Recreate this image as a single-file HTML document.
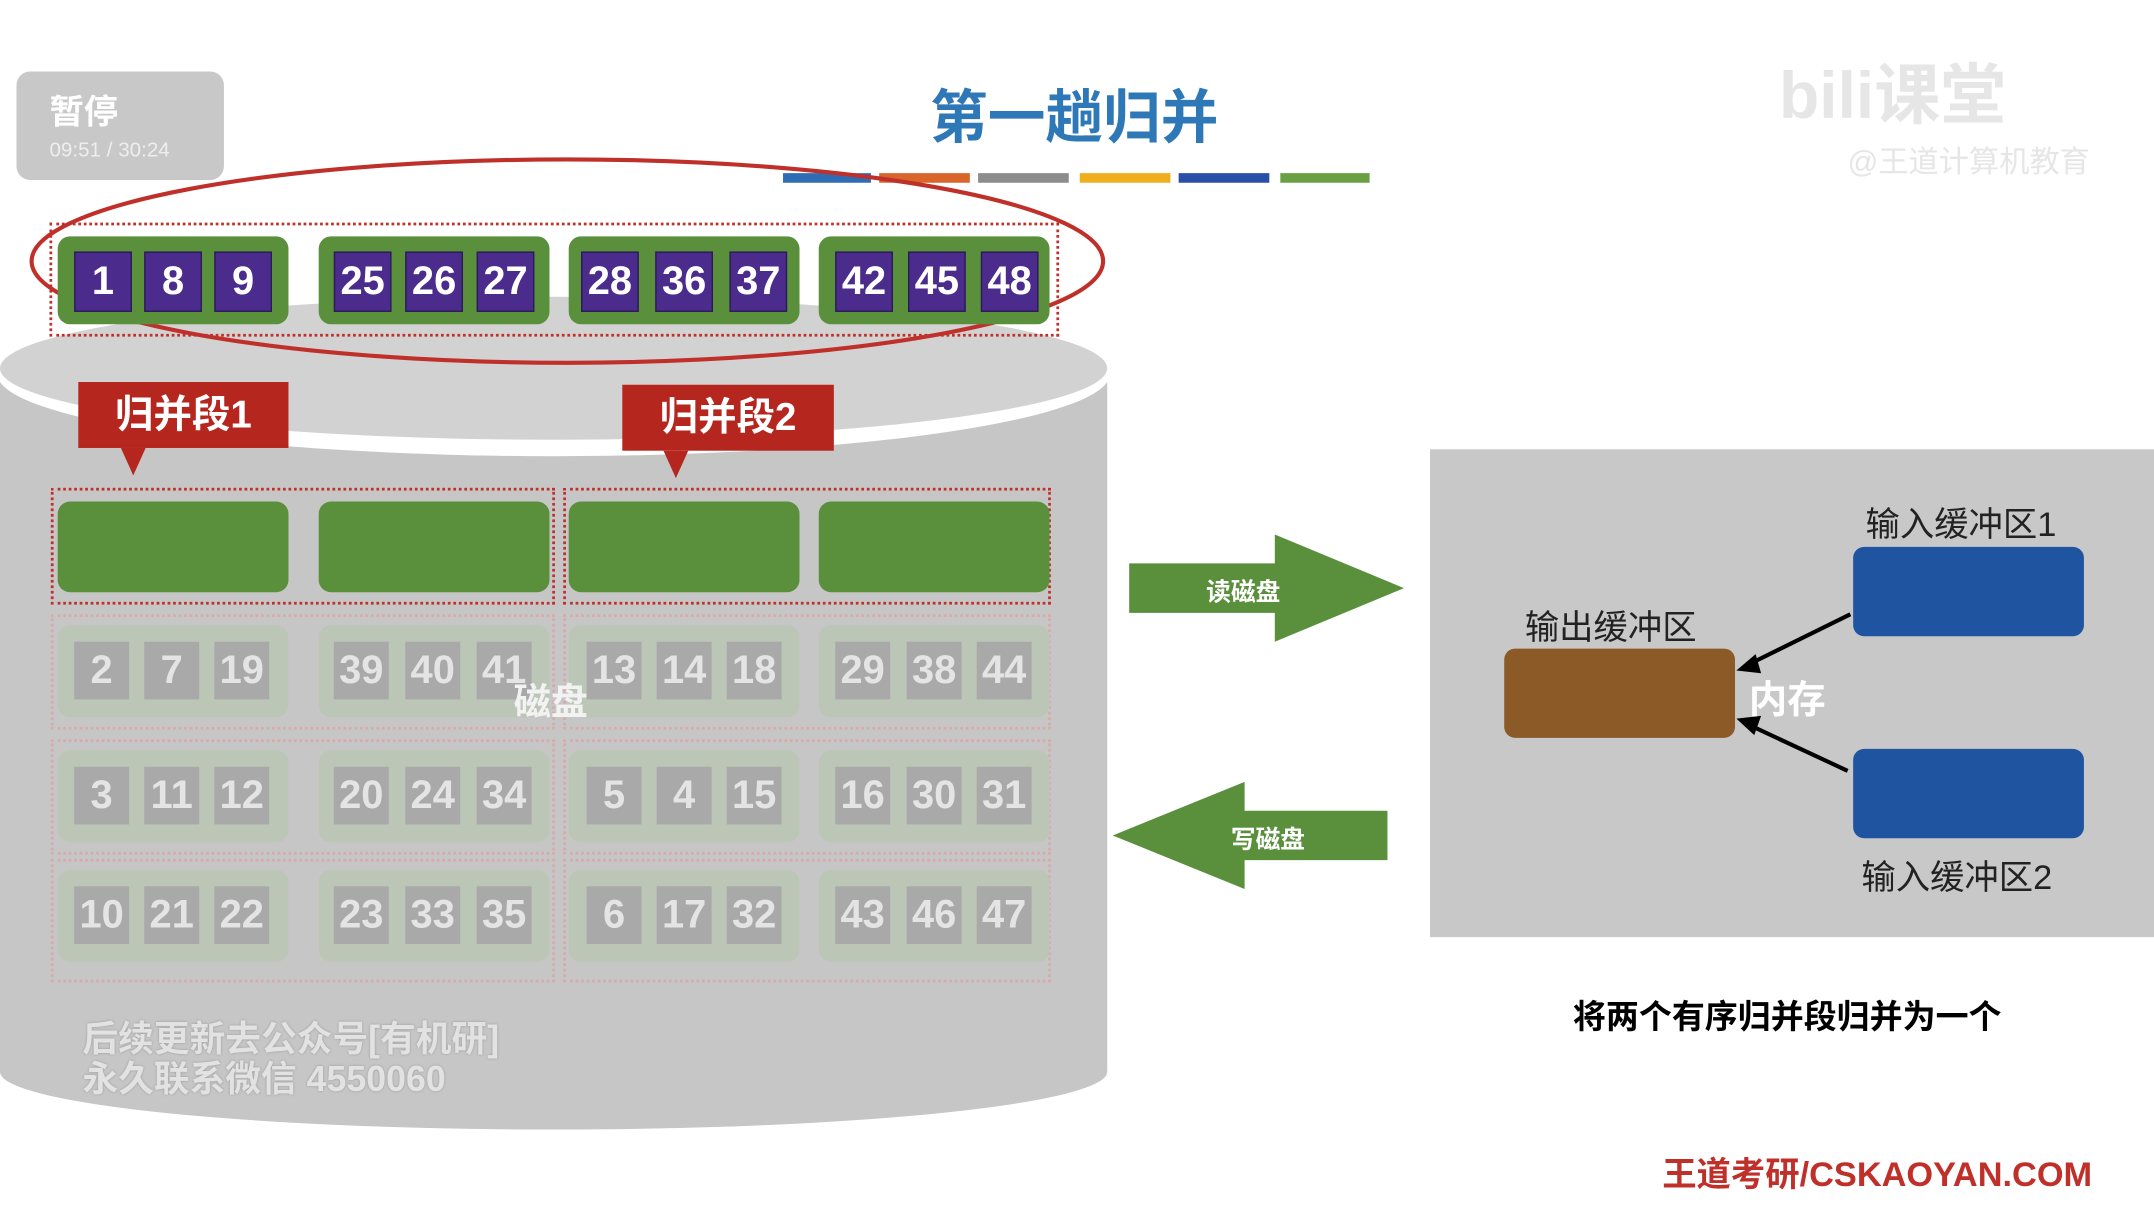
<!DOCTYPE html>
<html><head><meta charset="utf-8">
<style>
html,body{margin:0;padding:0;background:#fff;overflow:hidden;width:2154px;height:1212px}
#w{position:absolute;left:0;top:0;width:1568px;height:882px;transform:scale(1.37372,1.3741);transform-origin:0 0;font-family:"Liberation Sans","Noto Sans CJK SC",sans-serif;background:#fff}
.a{position:absolute}
.g{position:absolute;background:#5a8f3c;border-radius:9px}
.sq{position:absolute;background:#4b2b8c;color:#fff;font-weight:bold;font-size:29px;text-align:center;line-height:42px;width:40px;height:42px;top:11px;border:1px solid #2a1a55}
.fg{position:absolute;background:#bcc6b6;border-radius:9px}
.fs{position:absolute;background:#a9a9a9;color:#e4e4e4;font-weight:bold;font-size:29px;text-align:center;line-height:42px;width:40px;height:42px;top:12px}
.dot{position:absolute;border:2px dotted #c0302a}
.fdot{position:absolute;border:2px dotted #d8aaaa}
.lbl{position:absolute;background:#b5261e;color:#fff;font-weight:bold;font-size:28px;text-align:center;line-height:48px}
</style></head><body><div id="w">
<svg class="a" style="left:0;top:0" width="1568" height="882">
 <rect x="0" y="270" width="806" height="510" fill="#c6c6c6"/>
 <ellipse cx="403" cy="780" rx="403" ry="42" fill="#c6c6c6"/>
 <ellipse cx="403" cy="272" rx="405" ry="60" fill="#fff"/>
 <ellipse cx="403" cy="268" rx="403" ry="52" fill="#d2d2d2"/>
 <rect x="570" y="126" width="64" height="7" fill="#2e6db4"/>
 <rect x="640" y="126" width="66" height="7" fill="#d9652b"/>
 <rect x="712" y="126" width="66" height="7" fill="#8c8c8c"/>
 <rect x="786" y="126" width="66" height="7" fill="#f0ad1c"/>
 <rect x="858" y="126" width="66" height="7" fill="#2a4fa8"/>
 <rect x="932" y="126" width="65" height="7" fill="#6aa043"/>
 <ellipse cx="413" cy="190" rx="390" ry="74" fill="none" stroke="#c0302a" stroke-width="3"/>
 <polygon points="822,410 928,410 928,389 1022,428 928,467 928,446 822,446" fill="#5a8f3c"/>
 <polygon points="1010,590 906,590 906,569 810,608 906,647 906,626 1010,626" fill="#5a8f3c"/>
 <rect x="1041" y="327" width="527" height="355" fill="#c8c8c8"/>
 <rect x="1095" y="472" width="168" height="65" rx="8" fill="#8b5a26"/>
 <rect x="1349" y="398" width="168" height="65" rx="8" fill="#1f55a0"/>
 <rect x="1349" y="545" width="168" height="65" rx="8" fill="#1f55a0"/>
 <line x1="1347" y1="447" x2="1272" y2="484" stroke="#000" stroke-width="3"/>
 <polygon points="1264,488 1278,476 1282,490" fill="#000"/>
 <line x1="1345" y1="561" x2="1272" y2="527" stroke="#000" stroke-width="3"/>
 <polygon points="1264,523 1282,521 1277,535" fill="#000"/>
 <polygon points="88,326 106,326 97,346" fill="#b5261e"/>
 <polygon points="483,328 501,328 492,348" fill="#b5261e"/>
</svg>
<div class="a" style="left:12px;top:52px;width:151px;height:79px;background:#c8c8c8;border-radius:10px"></div>
<div class="a" style="left:36px;top:62px;color:#fff;font-weight:bold;font-size:25px">暂停</div>
<div class="a" style="left:36px;top:101px;color:#eee;font-size:15px">09:51 / 30:24</div>
<div class="a" style="left:677px;top:52px;color:#2e78b7;font-weight:bold;font-size:42px">第一趟归并</div>
<div class="a" style="left:1295px;top:30px;color:#e6e6e6;font-weight:bold;font-size:48px">bili课堂</div>
<div class="a" style="left:1345px;top:100px;color:#e6e6e6;font-size:22px">@王道计算机教育</div>

<div class="dot" style="left:36px;top:162px;width:731px;height:79px"></div>
<div class="g" style="left:42px;top:172px;width:168px;height:64px"><div class="sq" style="left:12px">1</div><div class="sq" style="left:63px">8</div><div class="sq" style="left:114px">9</div></div>
<div class="g" style="left:232px;top:172px;width:168px;height:64px"><div class="sq" style="left:11px">25</div><div class="sq" style="left:63px">26</div><div class="sq" style="left:115px">27</div></div>
<div class="g" style="left:414px;top:172px;width:168px;height:64px"><div class="sq" style="left:9px">28</div><div class="sq" style="left:63px">36</div><div class="sq" style="left:117px">37</div></div>
<div class="g" style="left:596px;top:172px;width:168px;height:64px"><div class="sq" style="left:12px">42</div><div class="sq" style="left:65px">45</div><div class="sq" style="left:118px">48</div></div>

<div class="lbl" style="left:57px;top:278px;width:153px;height:48px">归并段1</div>
<div class="lbl" style="left:453px;top:280px;width:154px;height:48px">归并段2</div>

<div class="dot" style="left:37px;top:355px;width:363px;height:81px"></div>
<div class="dot" style="left:410px;top:355px;width:351px;height:81px"></div>
<div class="g" style="left:42px;top:365px;width:168px;height:66px"></div>
<div class="g" style="left:232px;top:365px;width:168px;height:66px"></div>
<div class="g" style="left:414px;top:365px;width:168px;height:66px"></div>
<div class="g" style="left:596px;top:365px;width:168px;height:66px"></div>

<div class="fdot" style="left:37px;top:447px;width:363px;height:80px"></div>
<div class="fdot" style="left:410px;top:447px;width:351px;height:80px"></div>
<div class="fdot" style="left:37px;top:538px;width:363px;height:80px"></div>
<div class="fdot" style="left:410px;top:538px;width:351px;height:80px"></div>
<div class="fdot" style="left:37px;top:625px;width:363px;height:86px"></div>
<div class="fdot" style="left:410px;top:625px;width:351px;height:86px"></div>

<div class="fg" style="left:42px;top:455px;width:168px;height:67px"><div class="fs" style="left:12px">2</div><div class="fs" style="left:63px">7</div><div class="fs" style="left:114px">19</div></div>
<div class="fg" style="left:232px;top:455px;width:168px;height:67px"><div class="fs" style="left:11px">39</div><div class="fs" style="left:63px">40</div><div class="fs" style="left:115px">41</div></div>
<div class="fg" style="left:414px;top:455px;width:168px;height:67px"><div class="fs" style="left:13px">13</div><div class="fs" style="left:64px">14</div><div class="fs" style="left:115px">18</div></div>
<div class="fg" style="left:596px;top:455px;width:168px;height:67px"><div class="fs" style="left:12px">29</div><div class="fs" style="left:64px">38</div><div class="fs" style="left:115px">44</div></div>

<div class="fg" style="left:42px;top:546px;width:168px;height:67px"><div class="fs" style="left:12px">3</div><div class="fs" style="left:63px">11</div><div class="fs" style="left:114px">12</div></div>
<div class="fg" style="left:232px;top:546px;width:168px;height:67px"><div class="fs" style="left:11px">20</div><div class="fs" style="left:63px">24</div><div class="fs" style="left:115px">34</div></div>
<div class="fg" style="left:414px;top:546px;width:168px;height:67px"><div class="fs" style="left:13px">5</div><div class="fs" style="left:64px">4</div><div class="fs" style="left:115px">15</div></div>
<div class="fg" style="left:596px;top:546px;width:168px;height:67px"><div class="fs" style="left:12px">16</div><div class="fs" style="left:64px">30</div><div class="fs" style="left:115px">31</div></div>

<div class="fg" style="left:42px;top:633px;width:168px;height:67px"><div class="fs" style="left:12px">10</div><div class="fs" style="left:63px">21</div><div class="fs" style="left:114px">22</div></div>
<div class="fg" style="left:232px;top:633px;width:168px;height:67px"><div class="fs" style="left:11px">23</div><div class="fs" style="left:63px">33</div><div class="fs" style="left:115px">35</div></div>
<div class="fg" style="left:414px;top:633px;width:168px;height:67px"><div class="fs" style="left:13px">6</div><div class="fs" style="left:64px">17</div><div class="fs" style="left:115px">32</div></div>
<div class="fg" style="left:596px;top:633px;width:168px;height:67px"><div class="fs" style="left:12px">43</div><div class="fs" style="left:64px">46</div><div class="fs" style="left:115px">47</div></div>

<div class="a" style="left:374px;top:489px;color:#f2f2f2;font-weight:bold;font-size:27px">磁盘</div>
<div class="a" style="left:60px;top:742px;color:#e2e2e2;font-weight:bold;font-size:26px;line-height:29px;text-shadow:0 0 2px #999">后续更新去公众号[有机研]<br>永久联系微信 4550060</div>

<div class="a" style="left:878px;top:417px;color:#fff;font-weight:bold;font-size:18px">读磁盘</div>
<div class="a" style="left:896px;top:597px;color:#fff;font-weight:bold;font-size:18px">写磁盘</div>

<div class="a" style="left:1358px;top:362px;color:#222;font-size:25px">输入缓冲区1</div>
<div class="a" style="left:1110px;top:437px;color:#222;font-size:25px">输出缓冲区</div>
<div class="a" style="left:1355px;top:619px;color:#222;font-size:25px">输入缓冲区2</div>
<div class="a" style="left:1273px;top:488px;color:#fff;font-weight:bold;font-size:28px">内存</div>

<div class="a" style="left:1145px;top:720px;color:#000;font-weight:bold;font-size:24px">将两个有序归并段归并为一个</div>
<div class="a" style="left:1210px;top:835px;color:#c0302a;font-weight:bold;font-size:25px">王道考研/CSKAOYAN.COM</div>
</div></body></html>
